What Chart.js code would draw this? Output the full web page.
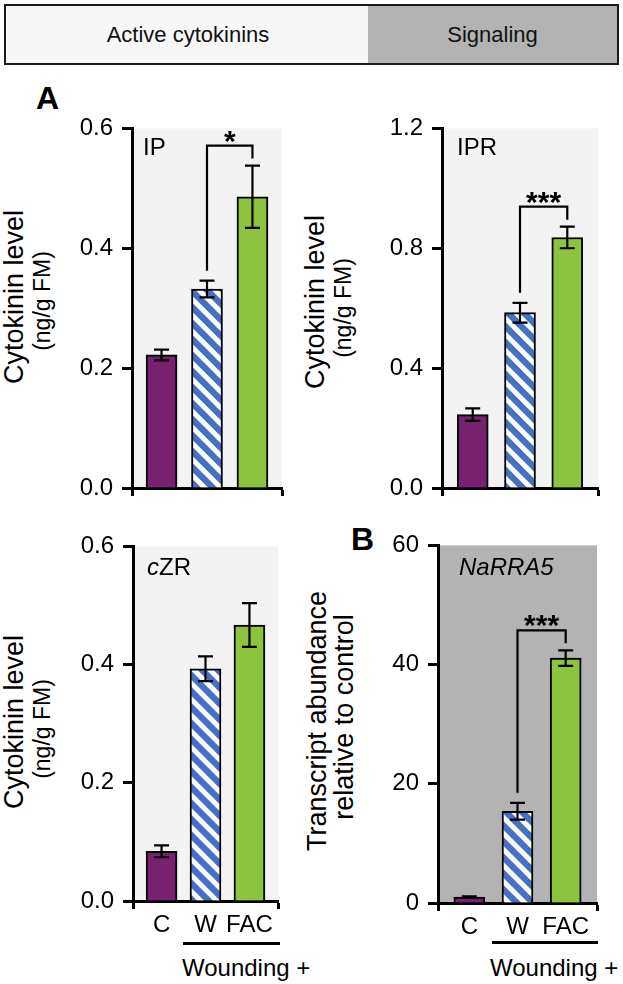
<!DOCTYPE html>
<html>
<head>
<meta charset="utf-8">
<script src="https://cdn.jsdelivr.net/npm/chart.js@4"></script>
<style>
  body { margin: 0; background: #fff; font-family: "Liberation Sans", Arial, sans-serif; }
  #fig { position: relative; width: 623px; height: 984px; overflow: hidden; }
  #fig canvas { position: absolute; }
  .hdr { position: absolute; top: 4px; height: 57px; border: 2px solid #1a1a1a; box-sizing: content-box;
         display: flex; align-items: center; justify-content: center; font-size: 22px; color: #111; }
  .letter { position: absolute; font-weight: bold; font-size: 32px; line-height: 32px; color: #000; }
  .rot { position: absolute; transform: translate(-50%, -50%) rotate(-90deg); white-space: nowrap;
         line-height: 1; color: #000; }
  .txt { position: absolute; white-space: nowrap; line-height: 1; color: #000; font-size: 24px; }
  .rule { position: absolute; height: 3px; background: #000; }
</style>
</head>
<body>
<div id="fig">
  <div class="hdr" style="left:4px; width:364px; background:#f7f7f7;">Active cytokinins</div>
  <div class="hdr" style="left:368px; width:249px; background:#b3b3b3; border-left:none;">Signaling</div>

  <div class="letter" style="left:36px; top:82px;">A</div>
  <div class="letter" style="left:351px; top:523px;">B</div>

  <div class="rot" style="left:14px; top:297px; font-size:27px;">Cytokinin level</div>
  <div class="rot" style="left:42px; top:301px; font-size:23px;">(ng/g FM)</div>
  <div class="rot" style="left:315px; top:302px; font-size:27px;">Cytokinin level</div>
  <div class="rot" style="left:343px; top:308px; font-size:23px;">(ng/g FM)</div>
  <div class="rot" style="left:14px; top:722px; font-size:27px;">Cytokinin level</div>
  <div class="rot" style="left:42px; top:729px; font-size:23px;">(ng/g FM)</div>
  <div class="rot" style="left:317px; top:721px; font-size:27px;">Transcript abundance</div>
  <div class="rot" style="left:344px; top:717px; font-size:27px;">relative to control</div>

  <div class="rule" style="left:183px; top:942px; width:97px;"></div>
  <div class="txt" style="left:182px; top:956px;">Wounding +</div>
  <div class="rule" style="left:492px; top:941px; width:106px;"></div>
  <div class="txt" style="left:490px; top:956px;">Wounding +</div>
</div>

<script>
const groups = ['C', 'W', 'FAC'];

const ipValues = [0.222, 0.332, 0.486];
const ipErrors = [0.009, 0.014, 0.052];
const iprValues = [0.245, 0.585, 0.836];
const iprErrors = [0.021, 0.033, 0.036];
const czrValues = [0.084, 0.393, 0.467];
const czrErrors = [0.010, 0.021, 0.037];
const rraValues = [1.0, 15.4, 41.1];
const rraErrors = [0.1, 1.4, 1.3];

const ipTicks = [0, 0.2, 0.4, 0.6];
const iprTicks = [0, 0.4, 0.8, 1.2];
const czrTicks = [0, 0.2, 0.4, 0.6];
const rraTicks = [0, 20, 40, 60];

const FONT = '"Liberation Sans", Arial, sans-serif';
const AXIS_W = 70;
const AXIS_H = 45;
const PAD_T = 20;
const PAD_R = 6;
const X_MIN = -0.65;
const X_MAX = 2.65;

// diagonal white stripes on blue
function stripePattern() {
    const s = 16;
    const c = document.createElement('canvas');
    c.width = s; c.height = s;
    const g = c.getContext('2d');
    g.fillStyle = '#4571c2';
    g.fillRect(0, 0, s, s);
    g.strokeStyle = '#ffffff';
    g.lineWidth = 5;
    for (let k = -1; k <= 1; k++) {
        g.beginPath();
        g.moveTo(k * s - 2, -2);
        g.lineTo(k * s + s + 2, s + 2);
        g.stroke();
    }
    return g.createPattern(c, 'repeat');
}

const barColors = ['#77216f', stripePattern(), '#8dc43f'];

const panels = [
    { name: [{ t: 'IP' }], nameDx: 11, nameDy: 20, values: ipValues, errors: ipErrors, ticks: ipTicks, digits: 1,
      star: '*', area: [132, 125, 282, 488], labels: false, bg: '#f3f3f3' },
    { name: [{ t: 'IPR' }], nameDx: 15, nameDy: 20, values: iprValues, errors: iprErrors, ticks: iprTicks, digits: 1,
      star: '***', area: [442, 125, 598, 488], labels: false, bg: '#f3f3f3' },
    { name: [{ t: 'c', it: true }, { t: 'ZR' }], nameDx: 14, nameDy: 22, values: czrValues, errors: czrErrors, ticks: czrTicks, digits: 1,
      star: null, area: [133, 543, 278, 901], labels: true, bg: '#f3f3f3' },
    { name: [{ t: 'NaRRA5', it: true }], nameDx: 21, nameDy: 23, values: rraValues, errors: rraErrors, ticks: rraTicks, digits: 0,
      star: '***', area: [438, 542, 597, 903], labels: true, bg: '#b3b3b3' }
];

function panelPlugin(p) {
    return {
        id: 'panelExtras',
        beforeDraw(chart) {
            const a = chart.chartArea, ctx = chart.ctx;
            ctx.save();
            ctx.fillStyle = p.bg;
            ctx.fillRect(a.left, a.top, a.right - a.left, a.bottom - a.top);
            ctx.restore();
        },
        afterDatasetsDraw(chart) {
            const ctx = chart.ctx, xs = chart.scales.x, ys = chart.scales.y, a = chart.chartArea;
            ctx.save();
            ctx.strokeStyle = '#000';
            ctx.fillStyle = '#000';
            ctx.lineWidth = 2.2;
            // error bars
            p.values.forEach((v, i) => {
                const x = xs.getPixelForValue(i);
                const hi = ys.getPixelForValue(v + p.errors[i]);
                const lo = ys.getPixelForValue(v - p.errors[i]);
                ctx.beginPath();
                ctx.moveTo(x, hi); ctx.lineTo(x, lo);
                ctx.moveTo(x - 7.5, hi); ctx.lineTo(x + 7.5, hi);
                ctx.moveTo(x - 7.5, lo); ctx.lineTo(x + 7.5, lo);
                ctx.stroke();
            });
            // significance bracket W vs FAC
            if (p.star) {
                const xl = xs.getPixelForValue(1), xr = xs.getPixelForValue(2);
                const capL = ys.getPixelForValue(p.values[1] + p.errors[1]);
                const capR = ys.getPixelForValue(p.values[2] + p.errors[2]);
                const yb = Math.min(capL, capR) - 20;
                ctx.beginPath();
                ctx.moveTo(xl, capL - 10); ctx.lineTo(xl, yb); ctx.lineTo(xr, yb); ctx.lineTo(xr, capR - 7);
                ctx.stroke();
                ctx.font = 'bold 30px ' + FONT;
                ctx.textAlign = 'center';
                ctx.textBaseline = 'alphabetic';
                ctx.fillText(p.star, (xl + xr) / 2, yb + 5);
            }
            // panel name
            let x = a.left + p.nameDx;
            ctx.textAlign = 'left';
            ctx.textBaseline = 'middle';
            p.name.forEach(part => {
                ctx.font = (part.it ? 'italic ' : '') + '24px ' + FONT;
                ctx.fillText(part.t, x, a.top + p.nameDy);
                x += ctx.measureText(part.t).width;
            });
            ctx.restore();
        }
    };
}

const fig = document.getElementById('fig');

panels.forEach((p, index) => {
    const [L, T, R, B] = p.area;
    const left = L - AXIS_W, top = T - PAD_T;
    const w = R + PAD_R - left, h = B + AXIS_H - top;
    const canvas = document.createElement('canvas');
    canvas.id = `chart${index}`;
    canvas.width = w; canvas.height = h;
    canvas.style.left = left + 'px';
    canvas.style.top = top + 'px';
    canvas.style.width = w + 'px';
    canvas.style.height = h + 'px';
    fig.appendChild(canvas);

    new Chart(canvas, {
        type: 'bar',
        data: {
            datasets: [{
                data: p.values.map((v, i) => ({ x: i, y: v })),
                backgroundColor: barColors,
                borderColor: '#000',
                borderWidth: 2,
                barThickness: 31
            }]
        },
        options: {
            responsive: false,
            animation: false,
            events: [],
            layout: { padding: { top: PAD_T, right: PAD_R, left: 0, bottom: 0 } },
            plugins: { legend: { display: false }, tooltip: { enabled: false } },
            scales: {
                x: {
                    type: 'linear',
                    min: X_MIN,
                    max: X_MAX,
                    offset: false,
                    afterBuildTicks: axis => { axis.ticks = [X_MIN, 0, 1, 2, X_MAX].map(v => ({ value: v })); },
                    afterFit: axis => { axis.height = AXIS_H; },
                    grid: {
                        offset: false,
                        drawOnChartArea: false,
                        tickLength: 8,
                        tickWidth: 3,
                        tickColor: c => (c.tick && (c.tick.value === X_MIN || c.tick.value === X_MAX)) ? '#000' : 'rgba(0,0,0,0)'
                    },
                    border: { color: '#000', width: 3 },
                    ticks: {
                        display: p.labels,
                        autoSkip: false,
                        maxRotation: 0,
                        minRotation: 0,
                        padding: 2,
                        color: '#000',
                        font: { size: 24, family: FONT },
                        callback: v => Number.isInteger(v) ? groups[v] : ''
                    }
                },
                y: {
                    min: 0,
                    max: p.ticks[p.ticks.length - 1],
                    afterBuildTicks: axis => { axis.ticks = p.ticks.map(v => ({ value: v })); },
                    afterFit: axis => { axis.width = AXIS_W; },
                    grid: { drawOnChartArea: false, tickLength: 10, tickWidth: 3, color: '#000' },
                    border: { color: '#000', width: 3 },
                    ticks: {
                        padding: 9,
                        color: '#000',
                        font: { size: 24, family: FONT },
                        callback: v => v.toFixed(p.digits)
                    }
                }
            }
        },
        plugins: [panelPlugin(p)]
    });
});
</script>
</body>
</html>
